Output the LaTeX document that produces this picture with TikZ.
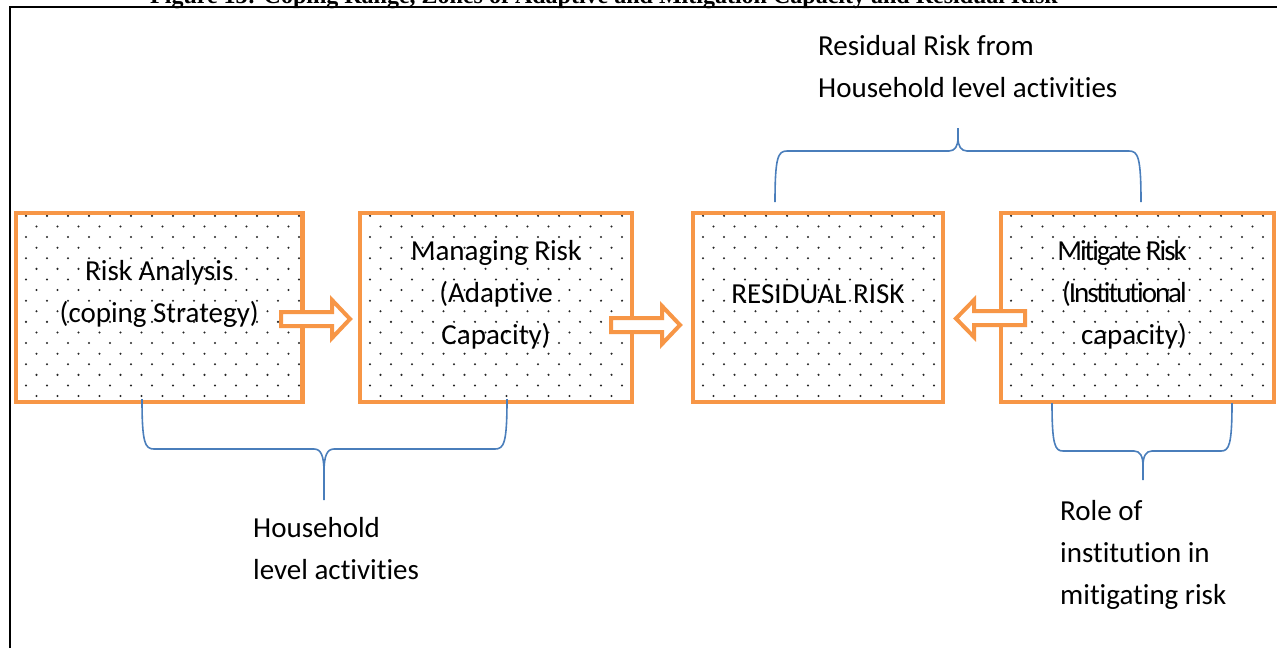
\documentclass[tikz,border=0pt]{standalone}
\usepackage{fontspec}
\setmainfont{Carlito}[Ligatures=NoCommon]
\newfontfamily\captionserif{Liberation Serif}
\usepackage{xcolor}
\usepackage{tikz}
\usetikzlibrary{calc}

\definecolor{zoneorange}{HTML}{F79646}
\definecolor{braceblue}{HTML}{4A7EBB}

\newcommand{\tightline}[1]{{\addfontfeature{LetterSpace=-7}#1}}

\begin{document}
\begin{tikzpicture}[
        x=1pt, y=-1pt,
        dotfill/.style={path picture={
            \foreach \r in {0,...,18}{
                \pgfmathsetmacro{\off}{mod(\r,2)*10.5}
                \foreach \c in {-1,...,14}{
                    \fill[black!85] ($(path picture bounding box.north west)+(10+\off+21*\c, 3+10.6*\r)$) circle (1.15pt);
                }
            }
        }},
        zone/.style={rectangle, draw=zoneorange, line width=4.5pt, fill=white, inner sep=0pt, minimum width=#1, minimum height=189pt, dotfill},
        zonetext/.style={align=center, inner sep=0pt, font=\fontsize{29}{42}\selectfont},
        note/.style={align=left, anchor=base west, inner sep=0pt, font=\fontsize{29}{42}\selectfont},
        figcaption/.style={anchor=base, inner sep=0pt, font=\captionserif\bfseries\fontsize{24}{28}\selectfont},
        blockarrow/.style={draw=zoneorange, line width=4pt, fill=white, line join=miter},
        brace/.style={draw=braceblue, line width=1.6pt}
    ]
        \clip (0,0) rectangle (1277,648);

        % Caption and frame
        \node[figcaption] (figtitle) at (604,3) {Figure 13: Coping Range, Zones of Adaptive and Mitigation Capacity and Residual Risk};
        \draw[line width=2pt] (10,648) -- (10,7) -- (1277,7);

        % Zones
        \node[zone=286.5pt] (analysis) at (159.25,307.35) {};
        \node[zone=272pt] (managing) at (496,307.35) {};
        \node[zone=250pt] (residual) at (818,307.35) {};
        \node[zone=273pt] (mitigate) at (1137.5,307.35) {};

        \node[zonetext] (analysis_txt) at ([yshift=13pt]analysis.center) {Risk Analysis\\(coping Strategy)};
        \node[zonetext] (managing_txt) at ([yshift=13pt]managing.center) {Managing Risk\\(Adaptive\\Capacity)};
        \node[zonetext] (residual_txt) at ([yshift=13pt]residual.center) {RESIDUAL RISK};
        \node[zonetext, align=right, anchor=east] (mitigate_txt) at (1187,294.3) {\tightline{Mitigate Risk}\\\tightline{(Institutional}\\capacity)};

        % Block arrows
        \draw[blockarrow] (281,312) -- (332,312) -- (332,300) -- (350,319) -- (332,338) -- (332,326) -- (281,326) -- cycle;
        \draw[blockarrow] (611,318) -- (662,318) -- (662,306) -- (680,325) -- (662,344) -- (662,332) -- (611,332) -- cycle;
        \draw[blockarrow] (1025,311) -- (974,311) -- (974,300) -- (956,318.5) -- (974,337) -- (974,325) -- (1025,325) -- cycle;

        % Braces
        \draw[brace] (142,399) .. controls (142,443) and (145,449) .. (154,449) -- (314,449) .. controls (321,449) and (324,456) .. (324,472) -- (324,500);
        \draw[brace] (507,399) .. controls (507,443) and (504,449) .. (495,449) -- (334,449) .. controls (327,449) and (324,456) .. (324,472);
        \draw[brace] (775,202) .. controls (775,157) and (778,151) .. (787,151) -- (949,151) .. controls (955,151) and (958,146) .. (958,138) -- (958,128);
        \draw[brace] (1141,202) .. controls (1141,157) and (1138,151) .. (1129,151) -- (967,151) .. controls (961,151) and (958,146) .. (958,138);
        \draw[brace] (1052,403) .. controls (1052,445) and (1055,451) .. (1063,451) -- (1134,451) .. controls (1140,451) and (1143,456) .. (1143,466) -- (1143,480);
        \draw[brace] (1232,403) .. controls (1232,445) and (1229,451) .. (1221,451) -- (1152,451) .. controls (1146,451) and (1143,456) .. (1143,466);

        % Notes
        \node[note] (residual_note) at (818,97) {Residual Risk from\\Household level activities};
        \node[note] (household_note) at (253,579) {Household\\level activities};
        \node[note] (institution_note) at (1060,604) {Role of\\institution in\\mitigating risk};

    \end{tikzpicture}
\end{document}
